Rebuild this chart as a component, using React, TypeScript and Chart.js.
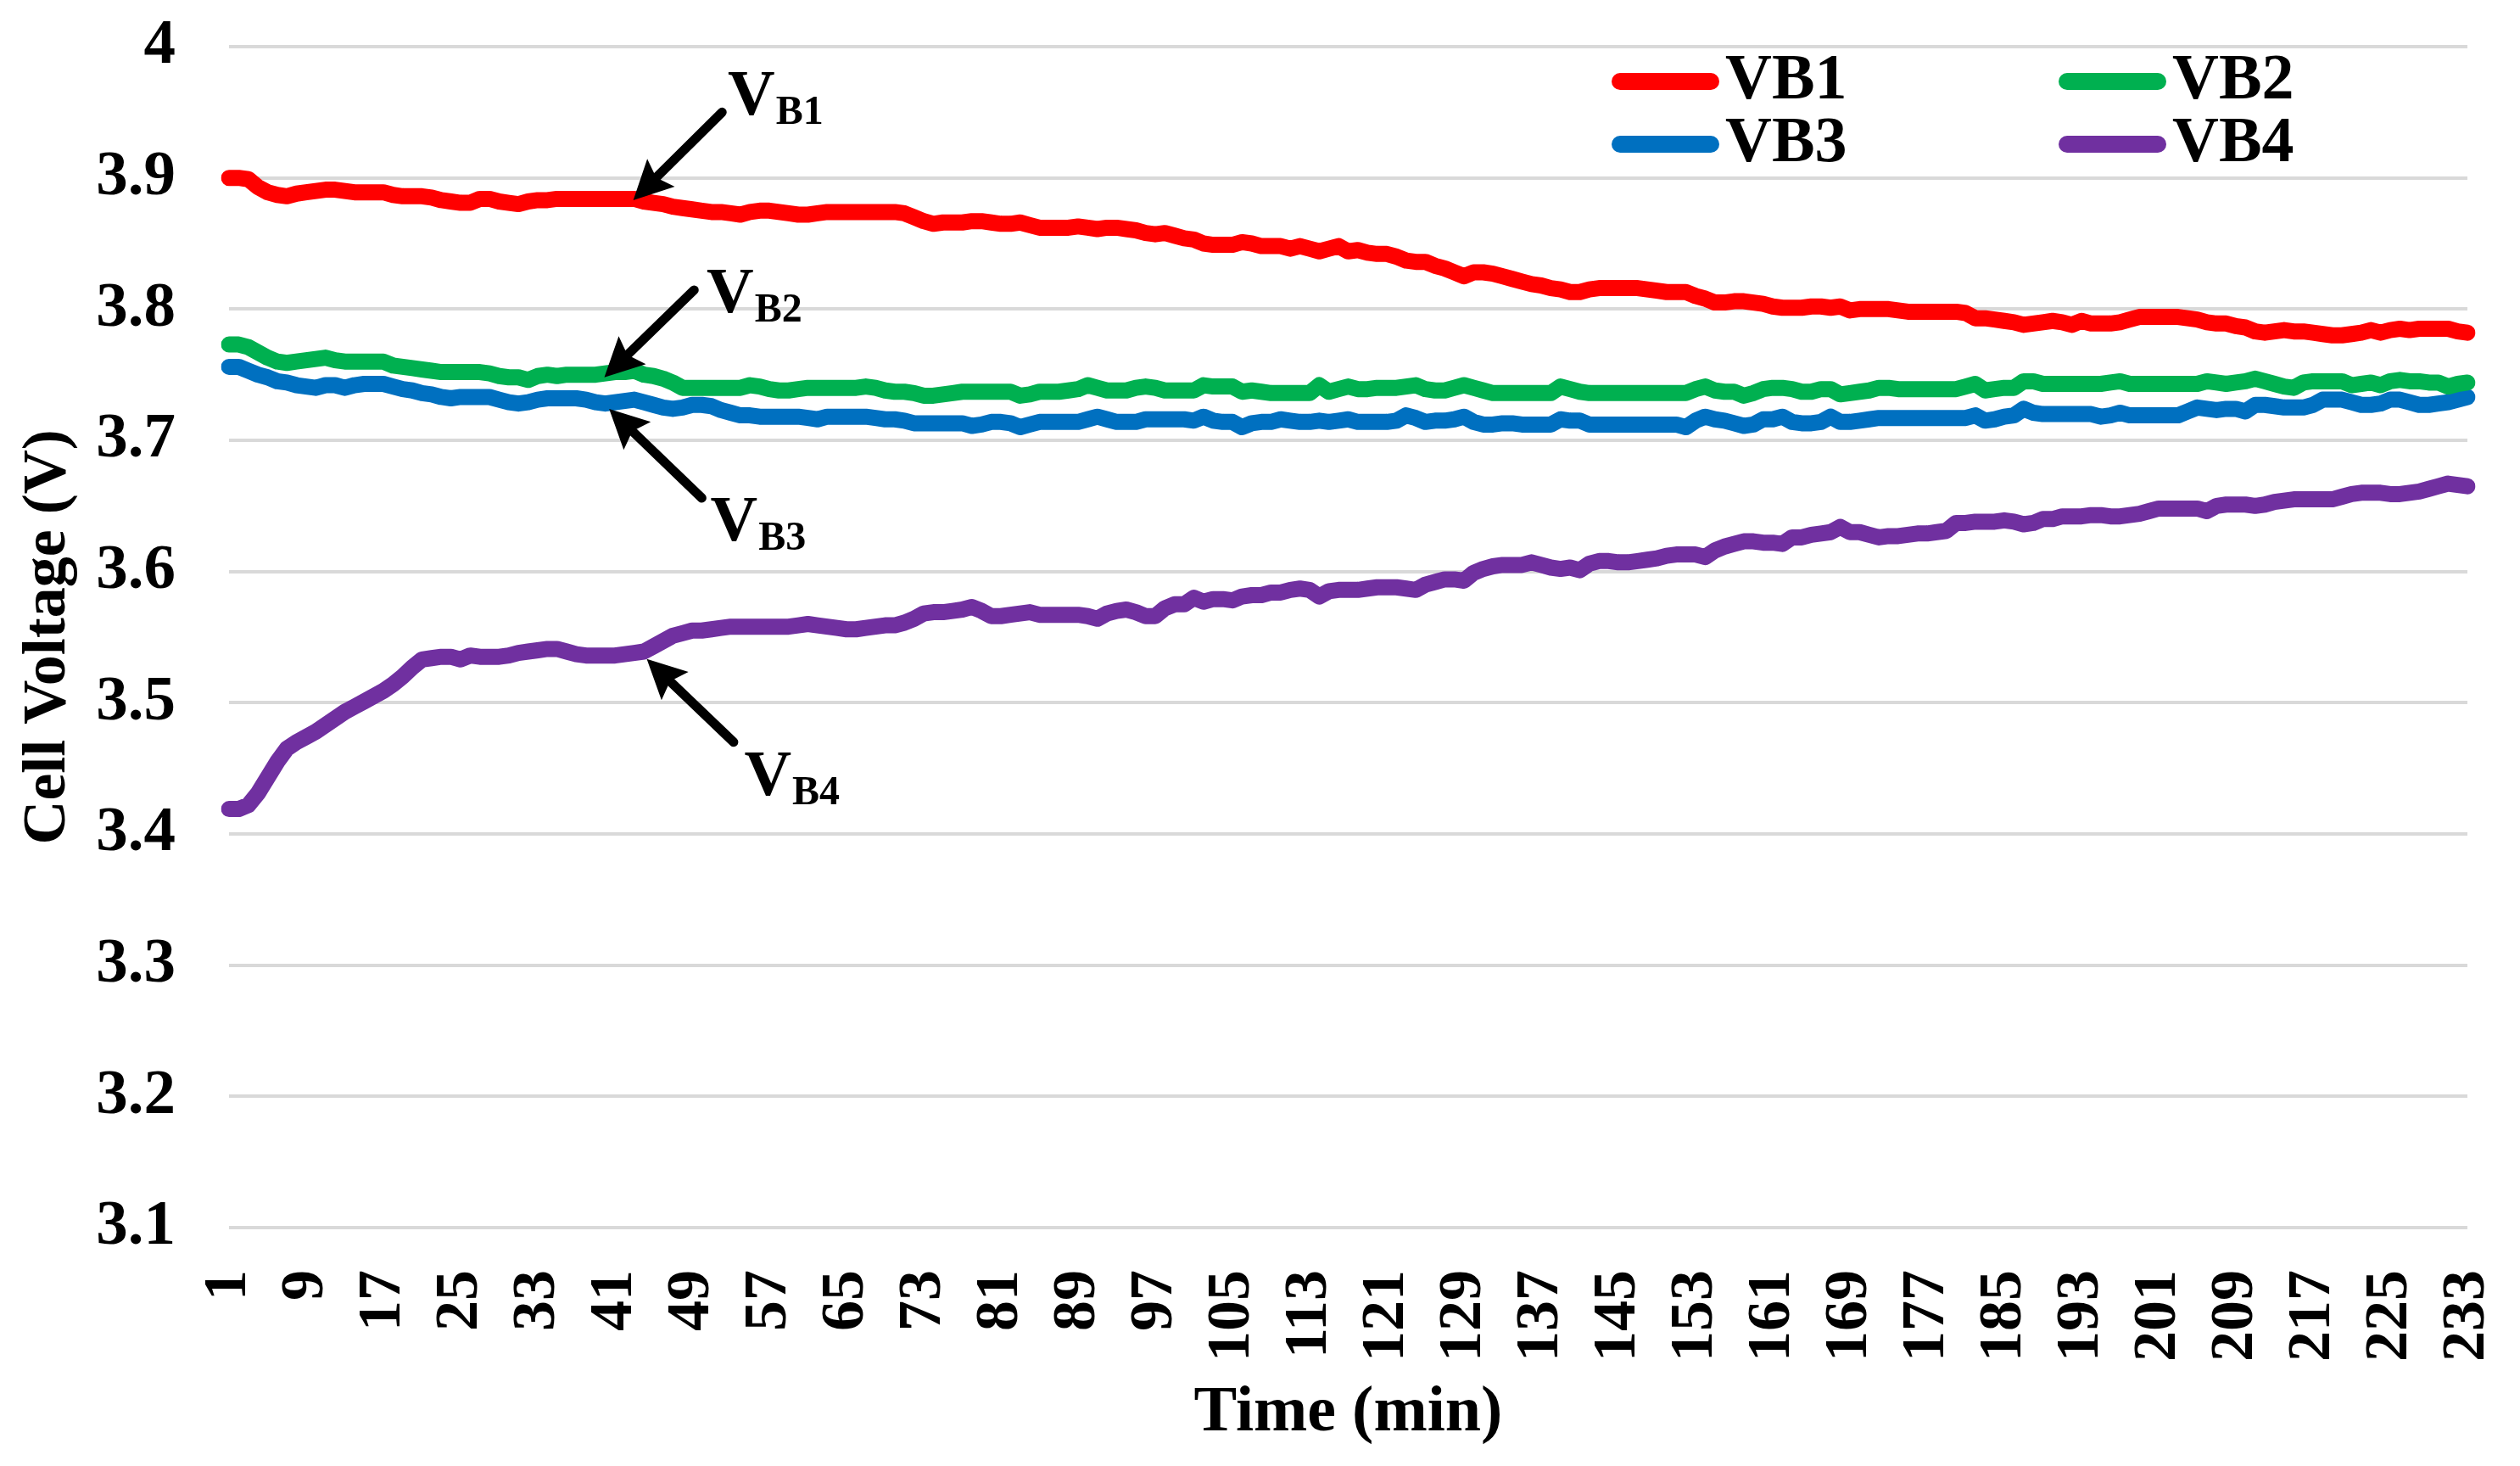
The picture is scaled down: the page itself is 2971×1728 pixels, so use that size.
import React, { useEffect, useRef } from 'react';
import { Chart, registerables } from 'chart.js';

Chart.register(...registerables);

// ---------- data ----------
const timeLabels: string[] = Array.from({ length: 233 }, (_, i) => String(i + 1));

const vb1: number[] = [
  3.900, 3.900, 3.899, 3.893, 3.889, 3.887, 3.886, 3.888, 3.889, 3.890,
  3.891, 3.891, 3.890, 3.889, 3.889, 3.889, 3.889, 3.887, 3.886, 3.886,
  3.886, 3.885, 3.883, 3.882, 3.881, 3.881, 3.884, 3.884, 3.882, 3.881,
  3.880, 3.882, 3.883, 3.883, 3.884, 3.884, 3.884, 3.884, 3.884, 3.884,
  3.884, 3.884, 3.884, 3.882, 3.881, 3.880, 3.878,
  3.877, 3.876, 3.875, 3.874, 3.874, 3.873, 3.872, 3.874, 3.875, 3.875,
  3.874, 3.873, 3.872, 3.872, 3.873, 3.874, 3.874, 3.874, 3.874, 3.874,
  3.874, 3.874, 3.874, 3.873, 3.870, 3.867, 3.865, 3.866, 3.866, 3.866,
  3.867, 3.867, 3.866, 3.865, 3.865, 3.866, 3.864, 3.862, 3.862, 3.862,
  3.862, 3.863, 3.862, 3.861, 3.862, 3.862, 3.861,
  3.860, 3.858, 3.857, 3.858, 3.856, 3.854, 3.853, 3.850, 3.849, 3.849,
  3.849, 3.851, 3.850, 3.848, 3.848, 3.848, 3.846, 3.848, 3.846, 3.844,
  3.846, 3.848, 3.844, 3.845, 3.843, 3.842, 3.842, 3.840, 3.837, 3.836,
  3.836, 3.833, 3.831, 3.828, 3.825, 3.828, 3.828, 3.827, 3.825, 3.823,
  3.821, 3.819, 3.818, 3.816, 3.815, 3.813,
  3.813, 3.815, 3.816, 3.816, 3.816, 3.816, 3.816, 3.815, 3.814, 3.813,
  3.813, 3.813, 3.810, 3.808, 3.805, 3.805, 3.806, 3.806, 3.805, 3.804,
  3.802, 3.801, 3.801, 3.801, 3.802, 3.802, 3.801, 3.802, 3.799, 3.800,
  3.800, 3.800, 3.800, 3.799, 3.798, 3.798, 3.798, 3.798, 3.798, 3.798,
  3.797, 3.793, 3.793, 3.792, 3.791, 3.790, 3.788,
  3.789, 3.790, 3.791, 3.790, 3.788, 3.791, 3.789, 3.789, 3.789, 3.790,
  3.792, 3.794, 3.794, 3.794, 3.794, 3.794, 3.793, 3.792, 3.790, 3.789,
  3.789, 3.787, 3.786, 3.783, 3.782, 3.783, 3.784, 3.783, 3.783, 3.782,
  3.781, 3.780, 3.780, 3.781, 3.782, 3.784, 3.782, 3.784, 3.785, 3.784,
  3.785, 3.785, 3.785, 3.785, 3.783, 3.782,
];

const vb2: number[] = [
  3.773, 3.773, 3.771, 3.767, 3.763, 3.760, 3.759, 3.760, 3.761, 3.762,
  3.763, 3.761, 3.760, 3.760, 3.760, 3.760, 3.760, 3.757, 3.756, 3.755,
  3.754, 3.753, 3.752, 3.752, 3.752, 3.752, 3.752, 3.751, 3.749, 3.748,
  3.748, 3.746, 3.749, 3.750, 3.749, 3.750, 3.750, 3.750, 3.750, 3.751,
  3.752, 3.752, 3.753, 3.750, 3.749, 3.747, 3.744,
  3.740, 3.740, 3.740, 3.740, 3.740, 3.740, 3.740, 3.742, 3.741, 3.739,
  3.738, 3.738, 3.739, 3.740, 3.740, 3.740, 3.740, 3.740, 3.740, 3.741,
  3.740, 3.738, 3.737, 3.737, 3.736, 3.734, 3.734, 3.735, 3.736, 3.737,
  3.737, 3.737, 3.737, 3.737, 3.737, 3.734, 3.735, 3.737, 3.737, 3.737,
  3.738, 3.739, 3.742, 3.740, 3.738, 3.738, 3.738,
  3.740, 3.741, 3.740, 3.738, 3.738, 3.738, 3.738, 3.742, 3.741, 3.741,
  3.741, 3.737, 3.738, 3.737, 3.736, 3.736, 3.736, 3.736, 3.736, 3.742,
  3.737, 3.739, 3.741, 3.739, 3.739, 3.740, 3.740, 3.740, 3.741, 3.742,
  3.739, 3.738, 3.738, 3.740, 3.742, 3.740, 3.738, 3.736, 3.736, 3.736,
  3.736, 3.736, 3.736, 3.736, 3.741, 3.739,
  3.737, 3.736, 3.736, 3.736, 3.736, 3.736, 3.736, 3.736, 3.736, 3.736,
  3.736, 3.736, 3.739, 3.741, 3.738, 3.737, 3.737, 3.734, 3.736, 3.739,
  3.740, 3.740, 3.739, 3.737, 3.737, 3.739, 3.739, 3.735, 3.736, 3.737,
  3.738, 3.740, 3.740, 3.739, 3.739, 3.739, 3.739, 3.739, 3.739, 3.739,
  3.741, 3.743, 3.738, 3.739, 3.740, 3.740, 3.745,
  3.745, 3.743, 3.743, 3.743, 3.743, 3.743, 3.743, 3.743, 3.744, 3.745,
  3.743, 3.743, 3.743, 3.743, 3.743, 3.743, 3.743, 3.743, 3.745, 3.744,
  3.743, 3.744, 3.745, 3.747, 3.745, 3.743, 3.741, 3.740, 3.744, 3.745,
  3.745, 3.745, 3.745, 3.742, 3.743, 3.744, 3.742, 3.745, 3.746, 3.745,
  3.745, 3.744, 3.744, 3.741, 3.743, 3.744,
];

const vb3: number[] = [
  3.756, 3.756, 3.753, 3.750, 3.748, 3.745, 3.744, 3.742, 3.741, 3.740,
  3.742, 3.742, 3.740, 3.742, 3.743, 3.743, 3.743, 3.741, 3.739, 3.738,
  3.736, 3.735, 3.733, 3.732, 3.733, 3.733, 3.733, 3.733, 3.731, 3.729,
  3.728, 3.729, 3.731, 3.732, 3.732, 3.732, 3.732, 3.731, 3.729, 3.728,
  3.729, 3.730, 3.731, 3.729, 3.727, 3.725, 3.724,
  3.725, 3.727, 3.727, 3.726, 3.723, 3.721, 3.719, 3.719, 3.718, 3.718,
  3.718, 3.718, 3.718, 3.717, 3.716, 3.718, 3.718, 3.718, 3.718, 3.718,
  3.717, 3.716, 3.716, 3.715, 3.713, 3.713, 3.713, 3.713, 3.713, 3.713,
  3.711, 3.712, 3.714, 3.714, 3.713, 3.710, 3.712, 3.714, 3.714, 3.714,
  3.714, 3.714, 3.716, 3.718, 3.716, 3.714, 3.714,
  3.714, 3.716, 3.716, 3.716, 3.716, 3.716, 3.715, 3.718, 3.715, 3.714,
  3.714, 3.710, 3.713, 3.714, 3.714, 3.716, 3.715, 3.714, 3.714, 3.715,
  3.714, 3.715, 3.716, 3.714, 3.714, 3.714, 3.714, 3.715, 3.719, 3.717,
  3.714, 3.715, 3.715, 3.716, 3.718, 3.714, 3.712, 3.712, 3.713, 3.713,
  3.712, 3.712, 3.712, 3.712, 3.716, 3.715,
  3.715, 3.712, 3.712, 3.712, 3.712, 3.712, 3.712, 3.712, 3.712, 3.712,
  3.712, 3.710, 3.715, 3.718, 3.716, 3.715, 3.713, 3.711, 3.712, 3.716,
  3.716, 3.718, 3.714, 3.713, 3.713, 3.714, 3.718, 3.714, 3.714, 3.715,
  3.716, 3.717, 3.717, 3.717, 3.717, 3.717, 3.717, 3.717, 3.717, 3.717,
  3.717, 3.719, 3.715, 3.716, 3.718, 3.719, 3.724,
  3.721, 3.720, 3.720, 3.720, 3.720, 3.720, 3.720, 3.718, 3.719, 3.721,
  3.719, 3.719, 3.719, 3.719, 3.719, 3.719, 3.722, 3.725, 3.724, 3.723,
  3.724, 3.724, 3.722, 3.727, 3.727, 3.726, 3.725, 3.725, 3.725, 3.727,
  3.731, 3.731, 3.731, 3.729, 3.727, 3.727, 3.728, 3.731, 3.731, 3.729,
  3.727, 3.727, 3.728, 3.729, 3.731, 3.733,
];

const vb4: number[] = [
  3.419, 3.419, 3.422, 3.431, 3.443, 3.455, 3.465, 3.470, 3.474, 3.478,
  3.483, 3.488, 3.493, 3.497, 3.501, 3.505, 3.509, 3.514, 3.520, 3.527,
  3.533, 3.534, 3.535, 3.535, 3.533, 3.536, 3.535, 3.535, 3.535, 3.536,
  3.538, 3.539, 3.540, 3.541, 3.541, 3.539, 3.537, 3.536, 3.536, 3.536,
  3.536, 3.537, 3.538, 3.539, 3.543, 3.547, 3.551,
  3.553, 3.555, 3.555, 3.556, 3.557, 3.558, 3.558, 3.558, 3.558, 3.558,
  3.558, 3.558, 3.559, 3.560, 3.559, 3.558, 3.557, 3.556, 3.556, 3.557,
  3.558, 3.559, 3.559, 3.561, 3.564, 3.568, 3.569, 3.569, 3.570, 3.571,
  3.573, 3.570, 3.566, 3.566, 3.567, 3.568, 3.569, 3.567, 3.567, 3.567,
  3.567, 3.567, 3.566, 3.564, 3.568, 3.570, 3.571,
  3.569, 3.566, 3.566, 3.572, 3.575, 3.575, 3.580, 3.577, 3.579, 3.579,
  3.578, 3.581, 3.582, 3.582, 3.584, 3.584, 3.586, 3.587, 3.586, 3.581,
  3.585, 3.586, 3.586, 3.586, 3.587, 3.588, 3.588, 3.588, 3.587, 3.586,
  3.590, 3.592, 3.594, 3.594, 3.593, 3.599, 3.602, 3.604, 3.605, 3.605,
  3.605, 3.607, 3.605, 3.603, 3.602, 3.603,
  3.601, 3.606, 3.608, 3.608, 3.607, 3.607, 3.608, 3.609, 3.610, 3.612,
  3.613, 3.613, 3.613, 3.611, 3.616, 3.619, 3.621, 3.623, 3.623, 3.622,
  3.622, 3.621, 3.626, 3.626, 3.628, 3.629, 3.630, 3.634, 3.630, 3.630,
  3.628, 3.626, 3.627, 3.627, 3.628, 3.629, 3.629, 3.630, 3.631, 3.637,
  3.637, 3.638, 3.638, 3.638, 3.639, 3.638, 3.636,
  3.637, 3.640, 3.640, 3.642, 3.642, 3.642, 3.643, 3.643, 3.642, 3.642,
  3.643, 3.644, 3.646, 3.648, 3.648, 3.648, 3.648, 3.648, 3.646, 3.650,
  3.651, 3.651, 3.651, 3.650, 3.651, 3.653, 3.654, 3.655, 3.655, 3.655,
  3.655, 3.655, 3.657, 3.659, 3.660, 3.660, 3.660, 3.659, 3.659, 3.660,
  3.661, 3.663, 3.665, 3.667, 3.666, 3.665,
];

const seriesNames: string[] = ['VB1', 'VB2', 'VB3', 'VB4'];
const seriesColors: string[] = ['#FF0000', '#00B050', '#0070C0', '#7030A0'];

const yTickMin = 3.1;
const yTickMax = 4;
const yTickStep = 0.1;
const xTickEvery = 8;

// Callout arrows: subscripts, tail / tip / label anchors in data space (time index, volts)
const calloutSubs: string[] = ['B1', 'B2', 'B3', 'B4'];
const calloutTails: [number, number][] = [[52.1, 3.950], [49.2, 3.8145], [50.0, 3.656], [53.3, 3.470]];
const calloutTips: [number, number][] = [[42.9, 3.883], [39.9, 3.748], [40.4, 3.724], [44.3, 3.5333]];
const calloutText: [number, number][] = [[52.7, 3.948], [50.5, 3.7977], [50.9, 3.6238], [54.4, 3.4299]];

const FONT = '"Liberation Serif", "Times New Roman", serif';

const calloutPlugin = {
  id: 'callouts',
  afterDatasetsDraw(chart: any) {
    const ctx = chart.ctx;
    const xs = chart.scales.x;
    const ys = chart.scales.y;
    ctx.save();
    for (let k = 0; k < calloutSubs.length; k++) {
      const tx = xs.getPixelForValue(calloutTails[k][0] - 1);
      const ty = ys.getPixelForValue(calloutTails[k][1]);
      const px = xs.getPixelForValue(calloutTips[k][0] - 1);
      const py = ys.getPixelForValue(calloutTips[k][1]);
      const ang = Math.atan2(py - ty, px - tx);
      const headLen = 46;
      const headHalf = 23;
      const bx = px - headLen * Math.cos(ang);
      const by = py - headLen * Math.sin(ang);
      ctx.strokeStyle = '#000';
      ctx.fillStyle = '#000';
      ctx.lineWidth = 11;
      ctx.lineCap = 'round';
      ctx.beginPath();
      ctx.moveTo(tx, ty);
      ctx.lineTo(bx + 6 * Math.cos(ang), by + 6 * Math.sin(ang));
      ctx.stroke();
      ctx.beginPath();
      ctx.moveTo(px, py);
      ctx.lineTo(bx + headHalf * Math.sin(ang), by - headHalf * Math.cos(ang));
      ctx.lineTo(bx + 8 * Math.cos(ang), by + 8 * Math.sin(ang));
      ctx.lineTo(bx - headHalf * Math.sin(ang), by + headHalf * Math.cos(ang));
      ctx.closePath();
      ctx.fill();

      const lx = xs.getPixelForValue(calloutText[k][0] - 1);
      const ly = ys.getPixelForValue(calloutText[k][1]);
      ctx.textAlign = 'left';
      ctx.textBaseline = 'alphabetic';
      ctx.font = `bold 77px ${FONT}`;
      ctx.fillText('V', lx, ly);
      const w = ctx.measureText('V').width;
      ctx.font = `bold 48px ${FONT}`;
      ctx.fillText(calloutSubs[k], lx + w + 1, ly + 11);
    }
    ctx.restore();
  },
};

const legendPlugin = {
  id: 'cornerLegend',
  afterDraw(chart: any) {
    const ctx = chart.ctx;
    const colX = [1900, 2427];
    const rowY = [96, 170];
    ctx.save();
    chart.data.datasets.forEach((ds: any, i: number) => {
      const x = colX[i % 2];
      const y = rowY[Math.floor(i / 2)];
      ctx.strokeStyle = ds.borderColor;
      ctx.lineWidth = 20;
      ctx.lineCap = 'round';
      ctx.beginPath();
      ctx.moveTo(x + 10, y);
      ctx.lineTo(x + 117, y);
      ctx.stroke();
      ctx.fillStyle = '#000';
      ctx.font = `bold 76px ${FONT}`;
      ctx.textAlign = 'left';
      ctx.textBaseline = 'middle';
      ctx.fillText(ds.label, x + 134, y);
    });
    ctx.restore();
  },
};

export default function App() {
  const canvasRef = useRef<HTMLCanvasElement | null>(null);

  useEffect(() => {
    if (!canvasRef.current) return;
    const series = [vb1, vb2, vb3, vb4];
    const chart = new Chart(canvasRef.current, {
      type: 'line',
      data: {
        labels: timeLabels,
        datasets: series.map((d, i) => ({
          label: seriesNames[i],
          data: d,
          borderColor: seriesColors[i],
          backgroundColor: seriesColors[i],
          borderWidth: 19,
          pointRadius: 0,
          pointHoverRadius: 0,
          tension: 0,
          fill: false,
          borderJoinStyle: 'round' as const,
          borderCapStyle: 'round' as const,
        })),
      },
      options: {
        responsive: false,
        animation: false,
        devicePixelRatio: 1,
        layout: { padding: { top: 55, right: 62, left: 0, bottom: 0 } },
        plugins: {
          legend: { display: false },
          tooltip: { enabled: false },
        },
        scales: {
          x: {
            type: 'category',
            offset: false,
            grid: { display: false, drawTicks: false },
            border: { display: false },
            ticks: {
              autoSkip: false,
              maxRotation: 90,
              minRotation: 90,
              padding: 50,
              color: '#000',
              font: { family: FONT, size: 72, weight: 'bold' },
              callback: (_v: any, i: number) => (i % xTickEvery === 0 ? timeLabels[i] : null),
            },
            title: {
              display: true,
              text: 'Time (min)',
              color: '#000',
              font: { family: FONT, size: 76, weight: 'bold' },
              padding: { top: 0, bottom: 16 },
            },
            afterFit: (s: any) => {
              s.height = 281;
              s.paddingLeft = 0;
              s.paddingRight = 0;
            },
          },
          y: {
            min: yTickMin,
            max: yTickMax,
            grid: { color: '#d9d9d9', lineWidth: 4, drawTicks: false },
            border: { display: false },
            ticks: {
              stepSize: yTickStep,
              padding: 63,
              color: '#000',
              font: { family: FONT, size: 75, weight: 'bold' },
              callback: (v: any) => Number(v).toFixed(1).replace(/\.0$/, ''),
            },
            title: {
              display: true,
              text: 'Cell Voltage (V)',
              color: '#000',
              font: { family: FONT, size: 72, weight: 'bold' },
              padding: { top: 14, bottom: 0 },
            },
            afterFit: (s: any) => {
              s.width = 270;
              s.paddingTop = 0;
              s.paddingBottom = 0;
            },
          },
        },
      } as any,
      plugins: [calloutPlugin, legendPlugin],
    });
    return () => chart.destroy();
  }, []);

  return (
    <canvas
      ref={canvasRef}
      width={2971}
      height={1728}
      style={{ position: 'fixed', left: 0, top: 0, width: 2971, height: 1728, display: 'block', background: '#fff' }}
    />
  );
}
